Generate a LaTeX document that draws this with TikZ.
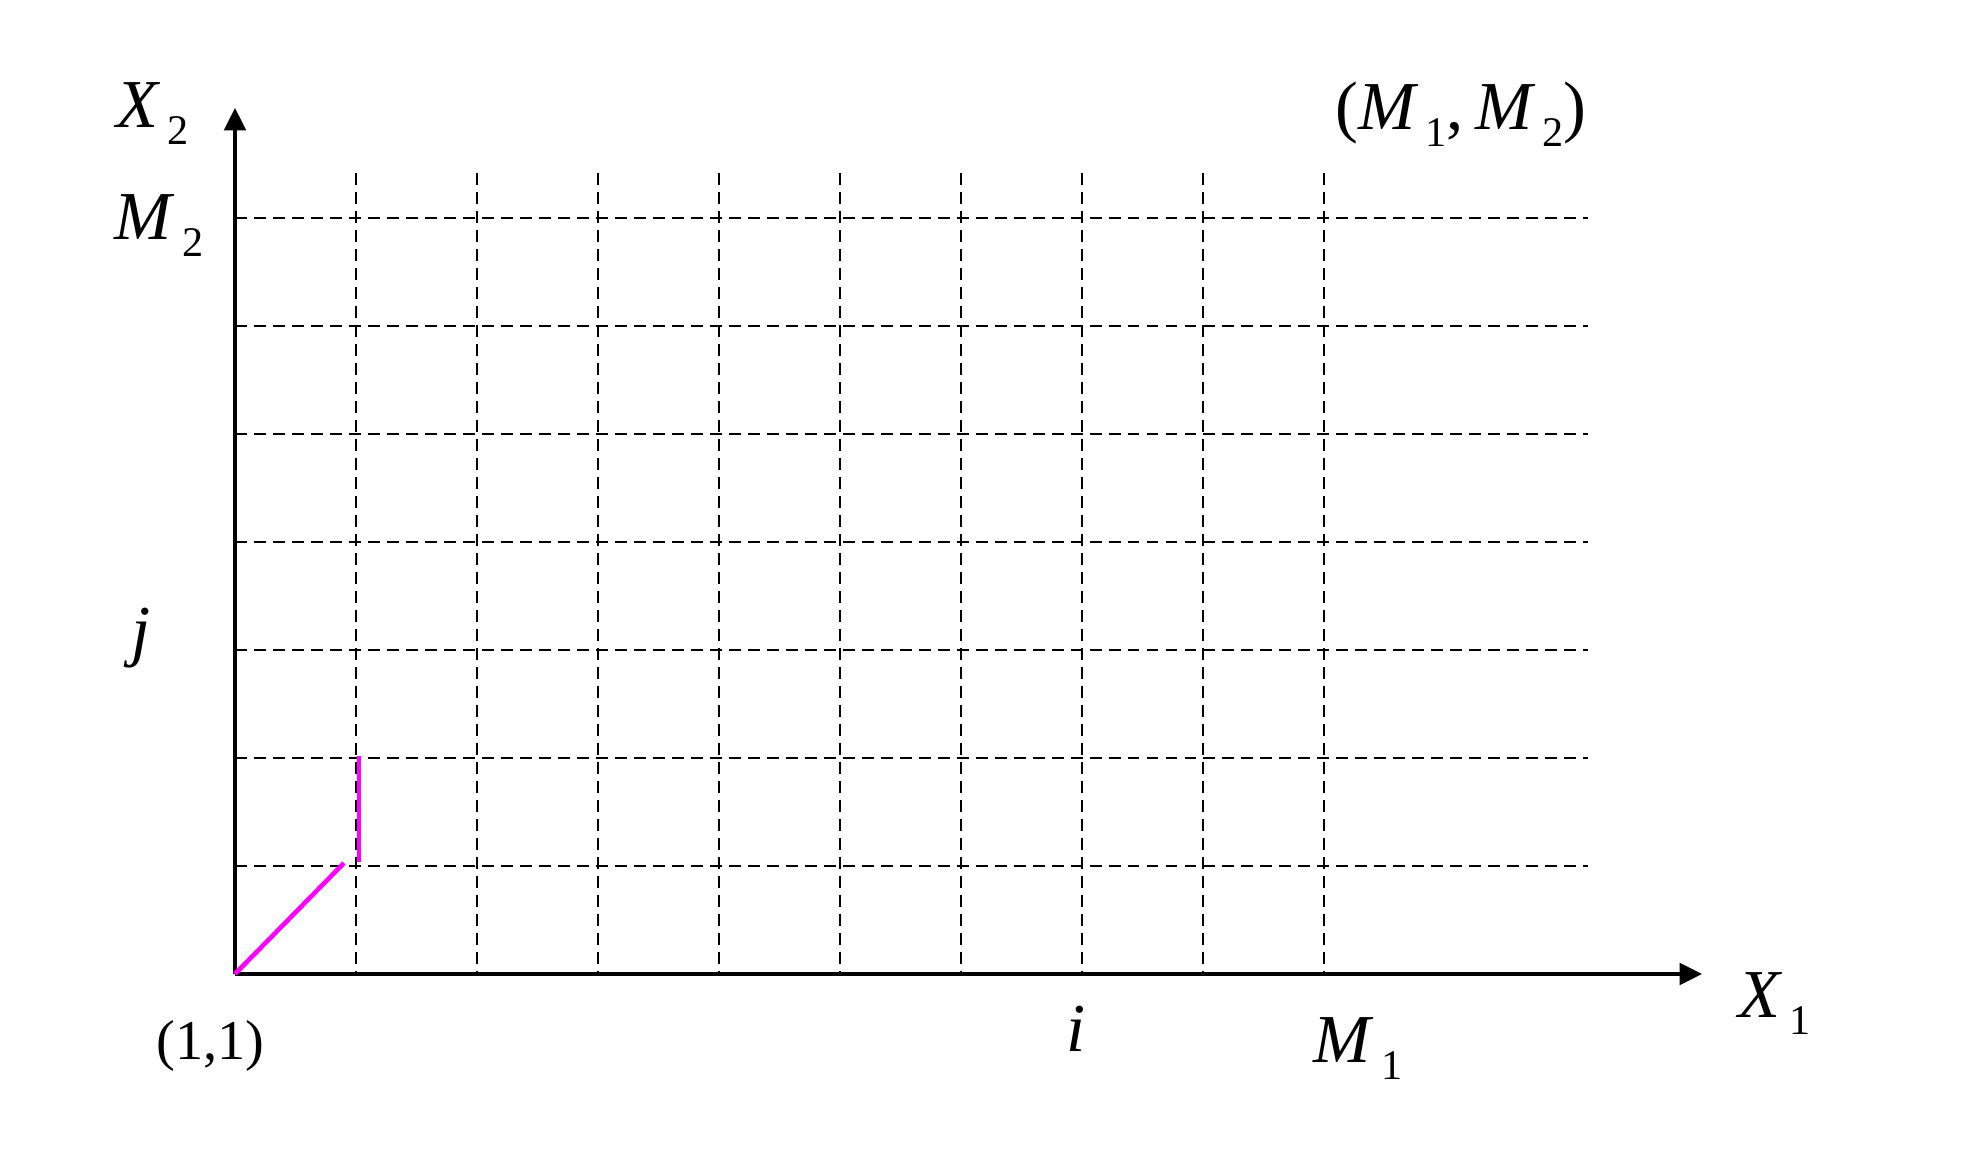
\documentclass[tikz,border=0pt]{standalone}
\usepackage{fontspec}
\setmainfont{Liberation Serif}
\usetikzlibrary{arrows.meta}
\definecolor{pathmag}{RGB}{255,0,255}
\newcommand{\mainsz}{\fontsize{19.5}{20}\selectfont}
\newcommand{\subsc}[1]{\hspace{2pt}\raisebox{-4.8pt}{\fontsize{12}{12}\selectfont #1}}
\begin{document}
\begin{tikzpicture}[x=0.01cm,y=-0.01cm,
  axis/.style={line width=0.95pt, -{Triangle[length=6.4pt,width=6.2pt]}},
  gridline/.style={line width=0.7pt, dash pattern=on 3.4pt off 2pt},
  pathline/.style={draw=pathmag, line width=1.3pt},
  lbl/.style={inner sep=0pt, font=\mainsz, anchor=base west}]
\useasboundingbox (0,0) rectangle (1988,1165);
% grid
\foreach \k in {1,...,9}{
  \coordinate (vt\k) at ({235+121*\k},173);
  \coordinate (vb\k) at ({235+121*\k},974);
  \draw[gridline] (vt\k) -- (vb\k);
}
\foreach \k in {1,...,7}{
  \coordinate (hl\k) at (235,{974-108*\k});
  \coordinate (hr\k) at (1588,{974-108*\k});
  \draw[gridline] (hl\k) -- (hr\k);
}
% axes
\coordinate (O) at (235,974);
\coordinate (ytip) at (235,108);
\coordinate (xtip) at (1702,974);
\draw[axis] (O) -- (ytip);
\draw[axis] (O) -- (xtip);
% path
\coordinate (p1) at (344,863);
\coordinate (p2) at (359,862);
\coordinate (p3) at (359,756);
\draw[pathline] (O) -- (p1);
\draw[pathline] (p2) -- (p3);
% labels
\node[lbl] (lx2) at (116,128) {\textit{X}\subsc{2}};
\node[lbl] (lm2) at (114,240) {\textit{M}\subsc{2}};
\node[lbl] (lj) at (131,654) {\textit{j}};
\node[lbl] (l11) at (156,1060) {\fontsize{16}{17}\selectfont (1,1)};
\node[lbl] (li) at (1066,1052) {\textit{i}};
\node[lbl] (lm1) at (1313,1063) {\textit{M}\subsc{1}};
\node[lbl] (lx1) at (1738,1018) {\textit{X}\subsc{1}};
\node[lbl] (lmm) at (1335,130) {(\textit{M}\subsc{1},\,\textit{M}\subsc{2})};
\end{tikzpicture}
\end{document}
